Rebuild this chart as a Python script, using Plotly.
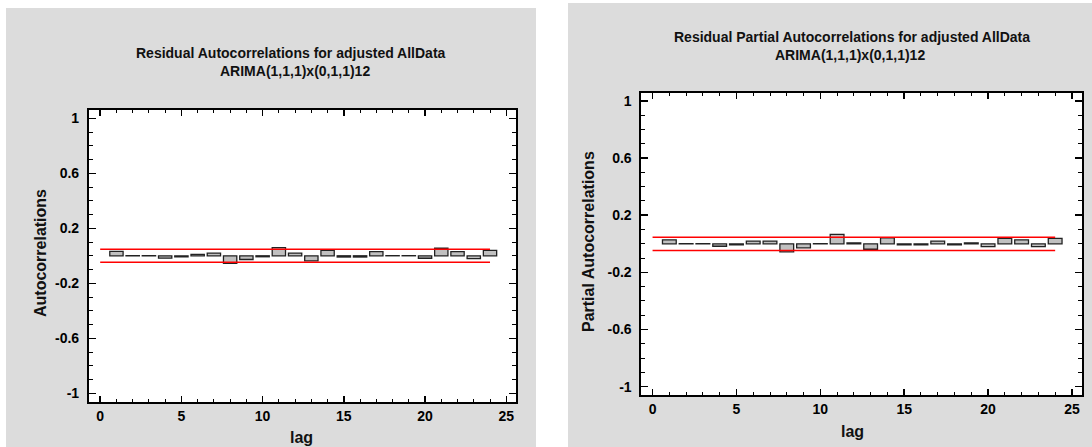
import plotly.graph_objects as go

# ---------------- data ----------------
lags = list(range(1, 25))
acf_values = [0.032, 0.001, 0.001, -0.017, -0.008, 0.010, 0.020, -0.055,
              -0.027, -0.007, 0.060, 0.020, -0.037, 0.040, -0.009, -0.009,
              0.030, 0.001, 0.001, -0.018, 0.055, 0.030, -0.020, 0.040]
pacf_values = [0.028, 0.001, 0.001, -0.017, -0.008, 0.019, 0.019, -0.057,
               -0.028, 0.001, 0.066, 0.007, -0.038, 0.042, -0.008, -0.008,
               0.019, -0.007, 0.007, -0.019, 0.038, 0.028, -0.019, 0.038]
limit_lags = [0, 24]
acf_upper = [0.047, 0.047]
acf_lower = [-0.047, -0.047]
pacf_upper = [0.046, 0.046]
pacf_lower = [-0.046, -0.046]

x_tickvals = [0, 5, 10, 15, 20, 25]
x_ticktext = ["0", "5", "10", "15", "20", "25"]
y_tickvals = [-1, -0.6, -0.2, 0.2, 0.6, 1]
y_ticktext = ["-1", "-0.6", "-0.2", "0.2", "0.6", "1"]

left_title = ["Residual Autocorrelations for adjusted AllData", "ARIMA(1,1,1)x(0,1,1)12"]
right_title = ["Residual Partial Autocorrelations for adjusted AllData", "ARIMA(1,1,1)x(0,1,1)12"]
left_ylabel = "Autocorrelations"
right_ylabel = "Partial Autocorrelations"
xlabel = "lag"

# ---------------- styling ----------------
W, H = 1092, 447
FONT = "Liberation Sans, Arial, sans-serif"
GRAY = "#dcdcdc"
BAR_FILL = "#c0c0c0"
BAR_LINE = "#222222"


def px(x):
    return x / W


def py(y):
    return 1 - y / H


fig = go.Figure()

# bars
fig.add_trace(go.Bar(x=lags, y=acf_values, width=0.82,
                     marker=dict(color=BAR_FILL, line=dict(color=BAR_LINE, width=1.3)),
                     xaxis="x", yaxis="y", showlegend=False))
fig.add_trace(go.Bar(x=lags, y=pacf_values, width=0.82,
                     marker=dict(color=BAR_FILL, line=dict(color=BAR_LINE, width=1.3)),
                     xaxis="x2", yaxis="y2", showlegend=False))

# limit lines
for ys, xa, ya in [(acf_upper, "x", "y"), (acf_lower, "x", "y"),
                   (pacf_upper, "x2", "y2"), (pacf_lower, "x2", "y2")]:
    fig.add_trace(go.Scatter(x=limit_lags, y=ys, mode="lines",
                             line=dict(color="red", width=1.5),
                             xaxis=xa, yaxis=ya, showlegend=False,
                             hoverinfo="skip"))

tickfont = dict(family=FONT, size=14, color="black", weight="bold")


def xaxis_cfg(domain, rng):
    return dict(domain=domain, range=rng, tickmode="array",
                tickvals=x_tickvals, ticktext=x_ticktext,
                ticks="inside", ticklen=6, tickwidth=1.5, tickcolor="black",
                minor=dict(ticks="inside", tickmode="linear", tick0=0, dtick=1,
                           ticklen=3, tickwidth=1, tickcolor="black"),
                showline=True, linewidth=1.6, linecolor="black",
                mirror="allticks", showgrid=False, zeroline=False,
                tickfont=tickfont, ticklabelstandoff=1, fixedrange=True)


def yaxis_cfg(domain, rng, anchor):
    return dict(domain=domain, range=rng, anchor=anchor, tickmode="array",
                tickvals=y_tickvals, ticktext=y_ticktext,
                ticks="inside", ticklen=7, tickwidth=1.5, tickcolor="black",
                minor=dict(ticks="inside", tickmode="linear", tick0=0, dtick=0.1,
                           ticklen=4, tickwidth=1, tickcolor="black"),
                showline=True, linewidth=1.6, linecolor="black",
                mirror="allticks", showgrid=False, zeroline=False,
                tickfont=tickfont, ticklabelstandoff=5, fixedrange=True)


L_x0, L_x1, L_y0, L_y1 = 88.5, 516, 110, 402
R_x0, R_x1, R_y0, R_y1 = 641, 1082, 92.5, 395

xa1 = xaxis_cfg([px(L_x0), px(L_x1)], [-0.72, 25.6])
xa1["anchor"] = "y"
xa2 = xaxis_cfg([px(R_x0), px(R_x1)], [-0.69, 25.6])
xa2["anchor"] = "y2"
ya1 = yaxis_cfg([py(L_y1), py(L_y0)], [-1.063, 1.06], "x")
ya2 = yaxis_cfg([py(R_y1), py(R_y0)], [-1.058, 1.059], "x2")

shapes = [
    dict(type="rect", xref="paper", yref="paper", x0=px(6), x1=px(536),
         y0=0, y1=py(8), fillcolor=GRAY, line=dict(width=0), layer="below"),
    dict(type="rect", xref="paper", yref="paper", x0=px(568), x1=1,
         y0=0, y1=py(3), fillcolor=GRAY, line=dict(width=0), layer="below"),
    dict(type="rect", xref="paper", yref="paper", x0=px(L_x0), x1=px(L_x1),
         y0=py(L_y1), y1=py(L_y0), fillcolor="white", line=dict(width=0), layer="below"),
    dict(type="rect", xref="paper", yref="paper", x0=px(R_x0), x1=px(R_x1),
         y0=py(R_y1), y1=py(R_y0), fillcolor="white", line=dict(width=0), layer="below"),
]

title_font = dict(family=FONT, size=14, color="#111111", weight="bold")
label_font = dict(family=FONT, size=16, color="#111111", weight="bold")


def ann(text, x, y, font, angle=0):
    return dict(text=text, x=px(x), y=py(y), xref="paper", yref="paper",
                xanchor="center", yanchor="middle", showarrow=False,
                font=font, textangle=angle)


annotations = [
    ann(left_title[0], 291, 53, title_font),
    ann(left_title[1], 295, 71, title_font),
    ann(right_title[0], 852, 37, title_font),
    ann(right_title[1], 850, 55, title_font),
    ann(left_ylabel, 40, 253, label_font, -90),
    ann(right_ylabel, 589, 242, label_font, -90),
    ann(xlabel, 301, 437, label_font),
    ann(xlabel, 852, 431, label_font),
]

fig.update_layout(
    width=W, height=H, autosize=False,
    margin=dict(l=0, r=0, t=0, b=0, pad=0),
    paper_bgcolor="white", plot_bgcolor="rgba(0,0,0,0)",
    xaxis=xa1, yaxis=ya1, xaxis2=xa2, yaxis2=ya2,
    shapes=shapes, annotations=annotations,
    bargap=0, showlegend=False,
)

fig.write_html("out.html",
               config={"displayModeBar": False, "staticPlot": True},
               post_script="document.body.style.margin='0';document.body.style.overflow='hidden';")
